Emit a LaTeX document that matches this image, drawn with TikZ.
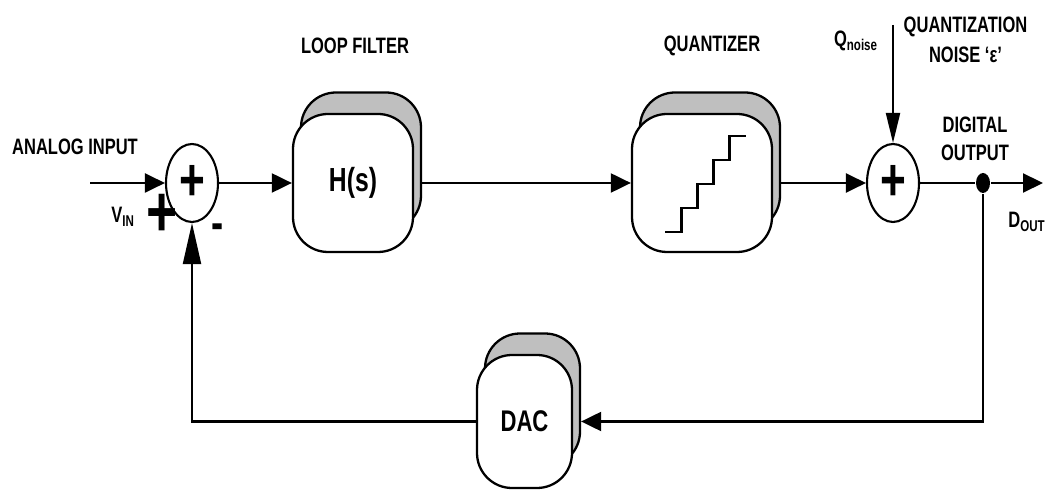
\documentclass[tikz,border=0pt]{standalone}
\usepackage{fontspec}
\setmainfont{Liberation Sans}[FakeStretch=0.74]
\usetikzlibrary{shapes.geometric, arrows.meta, positioning, shadows}

\begin{document}
\begin{tikzpicture}[
    box/.style={rectangle, rounded corners=0.7cm, draw, line width=1.3pt, fill=white,
                copy shadow={shadow xshift=0.16cm, shadow yshift=0.43cm, fill=black!25, draw, line width=1.3pt},
                minimum height=2.76cm, font=\fontsize{19}{22}\selectfont\bfseries},
    sum/.style={ellipse, draw, line width=1.2pt, minimum width=1.04cm, minimum height=1.56cm, inner sep=0pt,
                label={[font=\fontsize{34}{34}\selectfont\bfseries, inner sep=0pt]center:+}},
    lbl/.style={font=\fontsize{12.7}{16}\selectfont\bfseries, align=center, inner sep=0pt},
    arrow/.style={-{Triangle[length=0.4cm, width=0.38cm]}, line width=1.2pt},
    uparrow/.style={-{Triangle[length=0.82cm, width=0.36cm]}, line width=1.2pt},
    qarrow/.style={-{Triangle[length=0.6cm, width=0.28cm]}, line width=1.2pt},
    line width=1.2pt
  ]
    \useasboundingbox (0,0) rectangle (20.9,9.82);

    \node[sum] (sum1) at (3.84,6.16) {};
    \node[box, minimum width=2.4cm] (hs) at (7.06,6.16) {H(s)};
    \node[box, minimum width=2.8cm] (quant) at (14.04,6.16) {};
    \node[sum] (sum2) at (17.86,6.16) {};
    \node[box, minimum width=1.9cm, minimum height=2.66cm,
          font=\fontsize{17}{20}\selectfont\bfseries] (dac) at (10.49,1.39) {DAC};
    \node[ellipse, fill, minimum width=0.28cm, minimum height=0.4cm, inner sep=0pt] (tap) at (19.66,6.16) {};

    \coordinate (vin)  at (1.8,6.16);
    \coordinate (dout) at (20.86,6.16);
    \coordinate (qn)   at (17.86,9.32);

    % staircase of the quantizer
    \draw ([shift={(-0.74,-0.98)}]quant.center) -- ++(0.33,0) -- ++(0,0.48) -- ++(0.32,0) -- ++(0,0.48)
          -- ++(0.32,0) -- ++(0,0.48) -- ++(0.32,0) -- ++(0,0.48) -- ++(0.33,0);

    \draw[arrow] (vin) -- (sum1);
    \draw[arrow] (sum1) -- (hs);
    \draw[arrow] ([xshift=0.16cm]hs.east) -- (quant);
    \draw[arrow] ([xshift=0.16cm]quant.east) -- (sum2);
    \draw (sum2) -- (tap);
    \draw[arrow] (tap) -- (dout);
    \draw[qarrow] (qn) -- (sum2);
    \draw[arrow] (tap) |- ([xshift=0.16cm]dac.east);
    \draw[uparrow] (dac) -| (sum1);

    \node[lbl] (ain) at (1.5,6.88) {ANALOG INPUT};
    \node[lbl] (vinl) at (2.46,5.48) {V\textsubscript{IN}};
    \node[font=\fontsize{41}{41}\selectfont\bfseries, inner sep=0pt] (pplus) at (3.24,5.52) {+};
    \node[font=\fontsize{28}{28}\selectfont\bfseries, inner sep=0pt] (mminus) at (4.36,5.18) {-};
    \node[lbl] (lf) at (7.1,8.9) {LOOP FILTER};
    \node[lbl] (ql) at (14.24,8.9) {QUANTIZER};
    \node[lbl] (qnl) at (17.12,9.0) {Q\textsubscript{noise}};
    \node[lbl, font=\fontsize{12.7}{17.3}\selectfont\bfseries] (qnoise) at (19.31,9.025) {QUANTIZATION\\NOISE ‘ε’};
    \node[lbl, font=\fontsize{12.7}{15.9}\selectfont\bfseries] (dig) at (19.5,7.05) {DIGITAL\\OUTPUT};
    \node[lbl] (doutl) at (20.54,5.38) {D\textsubscript{OUT}};
\end{tikzpicture}
\end{document}
